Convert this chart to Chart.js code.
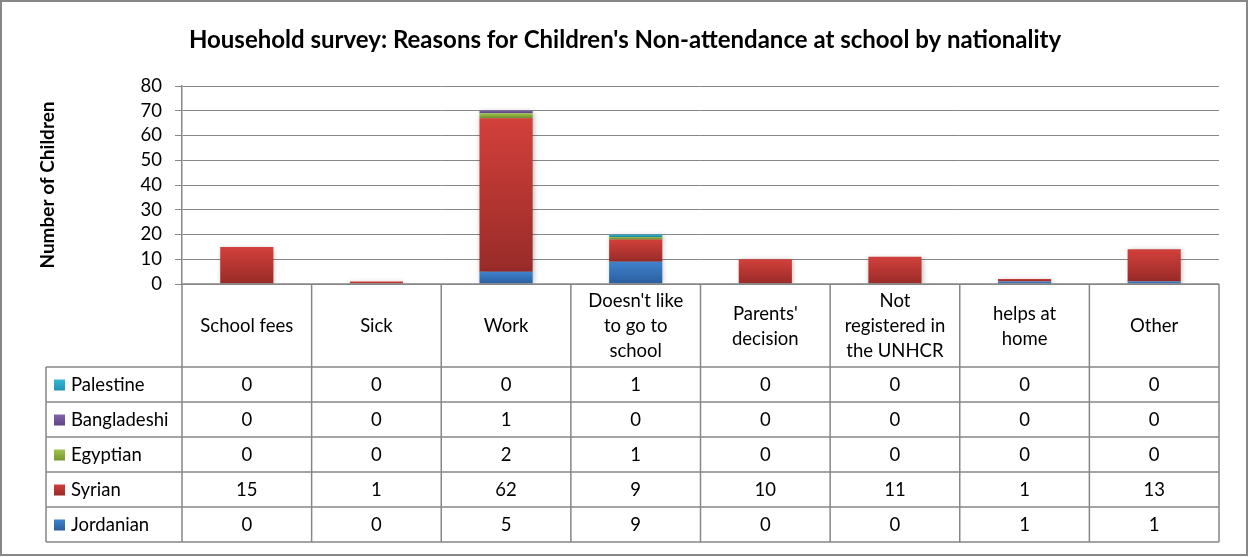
<!DOCTYPE html>
<html><head><meta charset="utf-8">
<script src="https://cdn.jsdelivr.net/npm/chart.js@4.4.1/dist/chart.umd.min.js"></script>
<style>html,body{margin:0;padding:0;background:#fff;}#wrap{width:1249px;height:557px;position:relative;}canvas{display:block;}</style>
</head><body><div id="wrap"><canvas id="c" width="1249" height="557"></canvas></div>
<script>
// ---- data ----
const categories = ["School fees", "Sick", "Work", ["Doesn't like", "to go to", "school"], ["Parents'", "decision"], ["Not", "registered in", "the UNHCR"], ["helps at", "home"], "Other"];
const jordanian = [0, 0, 5, 9, 0, 0, 1, 1];
const syrian = [15, 1, 62, 9, 10, 11, 1, 13];
const egyptian = [0, 0, 2, 1, 0, 0, 0, 0];
const bangladeshi = [0, 0, 1, 0, 0, 0, 0, 0];
const palestine = [0, 0, 0, 1, 0, 0, 0, 0];
const seriesNames = ["Jordanian", "Syrian", "Egyptian", "Bangladeshi", "Palestine"];
const yMin = 0, yMax = 80, yStep = 10;
const titleText = "Household survey: Reasons for Children's Non-attendance at school by nationality";
const yTitleText = "Number of Children";

// ---- styles ----
const seriesData = [jordanian, syrian, egyptian, bangladeshi, palestine];
const seriesColors = [
  ["#3E82CC", "#2B5E9F"],
  ["#D2403B", "#982B28"],
  ["#9FC44E", "#76972F"],
  ["#8362AE", "#5E4487"],
  ["#35B8D8", "#2393B2"]
];
const FONT = "Lato, 'Open Sans', sans-serif";
const GRID = "#878787";
const TEXT_SIZE = 18.5;

function segGradient(c, di) {
  const chart = c.chart, y = chart.scales.y, cols = seriesColors[di];
  if (!y || c.type !== 'data' || !chart.chartArea) return cols[0];
  const i = c.dataIndex;
  let base = 0;
  for (let k = 0; k < di; k++) base += seriesData[k][i];
  const top = base + seriesData[di][i];
  const y0 = y.getPixelForValue(top), y1 = y.getPixelForValue(base);
  if (!(y1 - y0 > 0.5)) return cols[0];
  const g = chart.ctx.createLinearGradient(0, y0, 0, y1);
  g.addColorStop(0, cols[0]); g.addColorStop(1, cols[1]);
  return g;
}

const datasets = seriesNames.map((name, di) => ({
  label: name,
  data: seriesData[di],
  backgroundColor: (c) => segGradient(c, di),
  borderWidth: 0,
  categoryPercentage: 1.0,
  barPercentage: 0.41
}));

const shadowPlugin = {
  id: 'shadow',
  beforeDatasetsDraw(chart) {
    const ctx = chart.ctx; ctx.save();
    ctx.shadowColor = 'rgba(0,0,0,0.28)'; ctx.shadowBlur = 5; ctx.shadowOffsetX = 1; ctx.shadowOffsetY = 1;
  },
  afterDatasetsDraw(chart) { chart.ctx.restore(); }
};

const tablePlugin = {
  id: 'dataTable',
  afterDraw(chart) {
    const ctx = chart.ctx, x = chart.scales.x, area = chart.chartArea;
    const n = categories.length;
    const left = area.left, right = area.right, cw = (right - left) / n;
    const headTop = area.bottom, headBot = headTop + 83, rowH = 35;
    const legLeft = 46;
    const order = [4, 3, 2, 1, 0];
    const tableBot = headBot + rowH * order.length;
    ctx.save();
    // chart title
    ctx.fillStyle = '#000';
    ctx.font = "bold 24px " + FONT;
    ctx.textAlign = 'center'; ctx.textBaseline = 'middle';
    ctx.fillText(titleText, 625, 40);

    ctx.strokeStyle = GRID; ctx.lineWidth = 1.5;
    ctx.beginPath();
    ctx.moveTo(left, headTop); ctx.lineTo(right, headTop);
    for (let r = 0; r <= order.length; r++) {
      const yy = headBot + r * rowH;
      ctx.moveTo(legLeft, yy); ctx.lineTo(right, yy);
    }
    for (let i = 0; i <= n; i++) {
      const xx = left + i * cw;
      ctx.moveTo(xx, headTop); ctx.lineTo(xx, tableBot);
    }
    ctx.moveTo(legLeft, headBot); ctx.lineTo(legLeft, tableBot);
    ctx.stroke();

    ctx.fillStyle = '#000';
    ctx.font = TEXT_SIZE + "px " + FONT;
    for (let i = 0; i < n; i++) {
      const cx = x.getPixelForValue(i);
      const lines = Array.isArray(categories[i]) ? categories[i] : [categories[i]];
      const lh = 25, mid = (headTop + headBot) / 2 + 1;
      lines.forEach((t, k) => ctx.fillText(t, cx, mid + (k - (lines.length - 1) / 2) * lh));
    }
    order.forEach((di, r) => {
      const cy = headBot + r * rowH + rowH / 2 + 1;
      for (let i = 0; i < n; i++) {
        ctx.fillText(String(seriesData[di][i]), x.getPixelForValue(i), cy);
      }
      const g = ctx.createLinearGradient(0, cy - 6, 0, cy + 5);
      g.addColorStop(0, seriesColors[di][0]); g.addColorStop(1, seriesColors[di][1]);
      ctx.fillStyle = g;
      ctx.fillRect(54, cy - 6, 11, 11);
      ctx.fillStyle = '#000';
      ctx.textAlign = 'left';
      ctx.fillText(seriesNames[di], 71, cy);
      ctx.textAlign = 'center';
    });
    ctx.strokeStyle = GRID; ctx.lineWidth = 2;
    ctx.strokeRect(1, 1, 1246, 554);
    ctx.restore();
  }
};

new Chart(document.getElementById('c'), {
  type: 'bar',
  data: { labels: categories, datasets },
  plugins: [shadowPlugin, tablePlugin],
  options: {
    responsive: false,
    animation: false,
    devicePixelRatio: 1,
    layout: { padding: { top: 86, right: 30, bottom: 273, left: 0 } },
    plugins: {
      legend: { display: false },
      tooltip: { enabled: false },
      title: { display: false }
    },
    scales: {
      x: { stacked: true, display: false },
      y: {
        stacked: true, min: yMin, max: yMax,
        afterFit(s) { s.width = 182; },
        ticks: { stepSize: yStep, autoSkip: false, color: '#000', padding: 13, font: { family: FONT, size: TEXT_SIZE } },
        grid: { color: GRID, lineWidth: 1, tickLength: 7, tickColor: GRID },
        border: { color: GRID, width: 1.5 },
        title: { display: true, text: yTitleText, color: '#000', padding: { top: 36, bottom: 0 }, font: { family: FONT, size: 19, weight: 'bold' } }
      }
    }
  }
});
</script></body></html>
